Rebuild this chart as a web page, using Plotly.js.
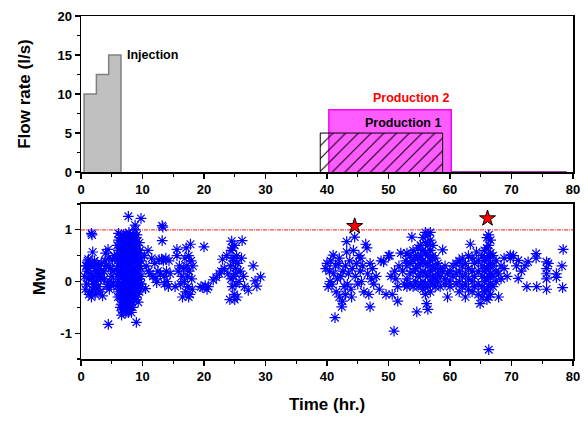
<!DOCTYPE html>
<html>
<head>
<meta charset="utf-8">
<script src="https://cdn.plot.ly/plotly-3.0.1.min.js"></script>
<style>html,body{margin:0;padding:0;background:#fff;}#chart{width:586px;height:423px;}</style>
</head>
<body>
<div id="chart"></div>
<script>
// ---- Flow rate data ----
const injTime = [0.5, 2.5, 4.5, 6.5];
const injRate = [10, 12.5, 15];
const prod1Time = [38.9, 58.8];
const prod1Rate = [5];
const prod2Time = [40.3, 60.2];
const prod2Rate = [8];
const flowEnd = 79;

// ---- Seismic events (time hr, Mw) ----
const eventTime = [
0.6,0.8,0.9,1.0,1.1,1.2,1.3,1.4,1.5,1.6,
1.7,1.8,1.9,1.7,1.9,2.0,2.1,2.2,2.3,2.4,
2.5,2.6,2.7,2.8,2.9,3.0,3.1,3.2,3.3,3.5,
3.7,3.8,4.0,4.1,4.2,4.3,4.4,4.5,4.6,4.7,
4.8,4.9,5.0,5.1,5.3,5.4,4.44,1.2,2.0,0.7,
0.9,1.3,1.8,2.2,2.6,3.0,3.4,3.9,4.5,5.2,
5.9,5.9,5.9,5.9,6.1,6.1,6.1,6.1,6.1,6.1,
6.3,6.3,6.3,6.3,6.3,6.3,6.5,6.5,6.5,6.5,
6.5,6.5,6.5,6.5,6.7,6.7,6.7,6.7,6.7,6.7,
6.7,6.7,6.9,6.9,6.9,6.9,6.9,6.9,6.9,6.9,
7.1,7.1,7.1,7.1,7.1,7.1,7.1,7.1,7.3,7.3,
7.3,7.3,7.3,7.3,7.3,7.3,7.5,7.5,7.5,7.5,
7.5,7.5,7.5,7.5,7.7,7.7,7.7,7.7,7.7,7.7,
7.7,7.7,7.7,7.9,7.9,7.9,7.9,7.9,7.9,7.9,
7.9,8.1,8.1,8.1,8.1,8.1,8.1,8.1,8.3,8.3,
8.3,8.3,8.3,8.3,8.3,8.5,8.5,8.5,8.5,8.5,
8.5,8.8,8.8,8.8,8.8,8.8,8.8,8.8,9.0,9.0,
9.0,9.0,9.0,9.0,9.0,9.2,9.2,9.2,9.2,9.2,
9.5,9.5,9.5,9.5,9.5,9.75,9.75,9.75,9.75,7.8,
6.4,6.6,6.8,7.0,7.2,7.4,7.6,7.8,8.0,8.2,
8.4,8.6,8.9,7.0,7.4,6.8,7.6,8.0,6.2,9.4,
8.6,8.7,9.1,9.3,9.4,9.6,9.7,9.8,5.8,6.0,
6.0,6.2,6.4,8.7,9.1,9.3,9.6,8.4,8.2,6.6,
10.3,10.5,10.6,10.9,11.2,11.5,11.7,12.0,12.2,12.5,
12.7,12.9,13.2,13.2,13.3,13.1,13.4,13.5,13.6,13.8,
13.9,14.0,14.2,14.3,14.5,12.3,11.0,
15.3,15.6,15.6,15.8,16.0,16.2,16.4,16.5,16.7,16.9,
17.0,17.1,17.2,17.3,17.4,17.5,17.6,17.7,17.8,17.9,
18.0,18.1,18.2,17.5,16.8,
19.5,19.8,20.0,20.2,20.5,20.7,21.5,22.0,22.5,22.8,
23.0,23.3,23.7,23.9,24.2,24.3,24.4,24.5,24.6,24.7,
24.8,24.9,25.0,25.1,25.2,25.3,25.4,25.5,25.7,25.9,
26.1,26.2,26.4,26.6,27.2,28.0,28.3,28.6,29.2,24.6,
25.0,24.4,24.8,25.2,
39.8,40.0,40.2,40.4,40.6,40.8,41.0,41.1,41.3,41.4,
41.5,41.7,41.9,42.0,42.2,42.4,42.5,42.6,42.8,43.0,
43.2,43.2,43.3,43.5,43.7,43.9,44.1,44.3,44.5,44.6,
44.8,45.0,45.2,45.4,45.6,45.8,46.0,46.3,46.5,46.6,
46.8,47.0,47.0,47.2,47.4,47.6,48.0,48.5,48.8,49.2,
49.6,50.0,50.2,50.4,50.6,50.9,51.0,51.2,51.5,51.7,
51.5,52.0,52.3,52.6,52.8,40.5,42.0,43.0,44.0,45.5,
53.0,53.0,53.0,53.0,53.5,53.5,53.5,53.5,53.8,54.0,
54.0,54.0,54.0,54.4,54.4,54.4,54.6,54.8,54.8,54.8,
54.8,54.8,55.2,55.2,55.2,55.2,55.2,55.6,55.6,55.6,
55.6,55.6,55.6,56.0,56.0,56.0,56.0,56.0,56.0,56.0,
56.2,56.4,56.4,56.4,56.4,56.4,56.4,56.4,56.8,56.8,
56.8,56.8,56.8,56.8,56.8,57.2,57.2,57.2,57.2,57.2,
57.6,57.6,57.6,57.6,58.0,58.0,58.0,58.4,58.4,58.4,
58.8,58.8,59.2,59.2,59.2,59.6,59.6,60.0,60.0,60.0,
60.5,60.5,61.0,61.0,61.0,61.5,61.5,61.5,61.5,62.0,
62.0,62.0,62.0,62.5,62.5,62.5,62.5,63.0,63.0,63.0,
63.0,63.3,63.6,63.6,63.6,63.6,64.0,64.0,64.0,64.3,
64.6,64.6,64.6,64.6,64.9,65.2,65.2,65.2,65.2,65.2,
65.6,65.6,65.6,65.6,65.6,66.0,66.0,66.0,66.0,66.0,
66.0,66.0,66.3,66.3,66.3,66.3,66.3,66.3,66.3,66.3,
66.6,66.6,66.6,66.6,66.6,66.6,67.0,67.0,67.0,67.0,
67.5,67.5,67.5,67.9,67.9,68.3,68.3,68.8,68.8,69.3,
69.8,69.8,70.3,70.8,71.1,71.1,71.6,72.2,72.5,72.7,
74.0,74.0,74.1,75.7,75.7,75.7,75.7,75.7,76.0,77.3,
77.3,78.2,78.4,78.3
];
const eventMw = [
0.1,0.3,-0.05,0.2,0.4,0.05,0.25,-0.2,0.35,0.15,
0.93,0.9,0.57,-0.3,-0.15,0.3,0.1,0.4,-0.25,0.2,
0.0,0.35,0.15,-0.1,0.3,0.25,-0.2,0.05,0.35,-0.28,
0.2,0.05,0.55,0.3,-0.1,-0.05,0.62,0.45,-0.15,0.0,
0.25,-0.08,0.1,0.42,-0.02,0.5,-0.83,0.43,-0.05,-0.15,
0.3,-0.25,0.05,-0.05,-0.15,0.1,0.15,0.4,0.3,0.2,
0.1,0.4,0.7,-0.1,0.93,0.6,0.3,0.0,-0.2,0.8,
0.85,0.5,0.2,-0.1,-0.3,0.65,0.9,0.7,0.45,0.15,
-0.05,-0.25,-0.45,0.3,0.8,0.55,0.35,0.1,-0.15,-0.35,
-0.55,0.65,0.9,0.75,0.5,0.25,0.0,-0.2,-0.4,-0.6,
0.85,0.6,0.4,0.15,-0.1,-0.3,-0.5,0.7,0.9,0.7,
0.45,0.2,-0.05,-0.25,-0.45,-0.6,0.88,0.65,0.35,0.1,
-0.15,-0.35,-0.55,0.5,1.26,0.85,0.6,0.4,0.2,0.0,
-0.2,-0.4,-0.6,0.9,0.7,0.5,0.25,0.05,-0.15,-0.35,
-0.55,0.85,0.6,0.35,0.15,-0.1,-0.3,-0.5,0.8,0.55,
0.3,0.05,-0.2,-0.4,0.7,0.9,0.65,0.4,0.2,-0.05,
-0.25,1.09,1.0,0.75,0.5,0.25,0.0,-0.2,0.85,0.6,
0.35,0.1,-0.15,-0.3,-0.79,0.7,0.45,0.2,-0.05,-0.25,
0.55,0.3,0.05,-0.2,0.75,1.22,0.4,0.1,-0.1,0.95,
0.6,0.2,0.4,0.55,0.3,0.05,0.75,0.35,-0.25,0.45,
0.15,0.55,0.4,-0.45,0.8,-0.05,-0.3,0.65,0.45,0.1,
0.8,0.05,0.55,0.3,-0.1,0.6,0.25,-0.05,0.25,0.5,
-0.3,0.15,-0.5,-0.35,0.9,-0.4,0.45,-0.5,-0.6,-0.65,
0.5,-0.14,0.3,0.6,0.15,0.45,0.1,0.35,0.05,0.2,
0.42,0.15,1.08,0.79,1.05,0.43,0.4,0.1,-0.05,0.45,
0.2,0.0,-0.1,0.4,0.15,-0.02,0.2,
-0.1,0.62,0.5,0.2,0.3,-0.05,0.1,-0.3,0.25,0.45,
-0.2,0.65,0.3,0.1,-0.1,0.5,0.2,-0.25,0.72,0.4,
0.05,-0.15,0.3,-0.3,0.0,
-0.1,-0.12,0.67,-0.08,-0.15,-0.1,0.03,0.08,0.15,0.2,
0.43,0.25,0.5,0.15,-0.35,0.3,0.6,0.78,-0.1,0.45,
0.1,-0.25,0.7,0.25,-0.05,0.5,-0.3,0.35,0.0,0.2,
0.45,0.79,0.1,-0.1,-0.17,0.3,0.01,-0.09,0.09,0.65,
-0.35,0.05,0.4,0.15,
0.25,0.35,-0.1,0.2,0.4,-0.05,0.51,0.15,-0.7,0.3,
-0.2,0.05,0.35,-0.3,0.1,-0.49,-0.38,0.2,-0.1,0.3,
0.77,0.57,-0.05,0.15,0.4,-0.15,0.25,0.6,0.86,0.1,
0.35,-0.05,0.5,0.2,0.0,0.3,-0.2,0.72,0.65,0.15,
-0.25,-0.49,0.35,0.05,0.25,-0.05,0.1,-0.15,0.4,0.38,
-0.25,0.5,0.5,0.1,-0.25,-0.96,0.2,0.05,-0.1,0.3,
-0.38,0.55,0.2,-0.05,0.4,0.0,0.45,-0.25,-0.3,0.45,
0.55,0.3,0.05,-0.1,0.5,0.35,0.15,-0.05,0.86,0.6,
0.4,0.2,-0.1,0.5,0.25,0.0,-0.59,0.65,0.45,0.3,
0.1,-0.1,0.7,0.5,0.35,0.15,-0.05,0.85,0.6,0.4,
0.2,0.0,-0.15,0.95,0.75,0.55,0.35,0.15,-0.05,-0.25,
-0.43,0.9,0.7,0.5,0.3,0.1,-0.1,-0.54,0.95,0.8,
0.6,0.4,0.2,0.0,-0.2,0.7,0.5,0.3,0.1,-0.05,
0.45,0.25,0.05,-0.1,0.35,0.15,0.0,0.25,0.1,-0.1,
0.61,0.2,0.05,0.3,-0.05,0.15,-0.3,0.2,0.0,-0.1,
0.3,0.1,0.15,-0.05,0.35,0.4,0.2,0.0,-0.2,0.3,
0.1,-0.1,0.45,0.35,0.15,-0.05,-0.3,0.5,0.25,0.05,
-0.15,0.72,0.45,0.2,0.0,-0.2,0.35,0.1,-0.1,0.57,
0.4,0.2,-0.05,-0.25,-0.43,0.5,0.3,0.1,-0.1,-0.3,
0.6,0.4,0.2,0.0,-0.2,0.85,0.65,0.45,0.25,0.05,
-0.15,-0.35,0.9,0.7,0.5,0.3,0.1,-0.1,-0.3,-1.32,
0.8,0.55,0.35,0.15,-0.05,-0.25,0.5,0.3,0.1,-0.1,
0.4,0.2,0.0,-0.3,0.15,0.3,0.05,0.45,0.25,0.1,
0.51,0.45,0.5,0.3,0.41,0.06,0.2,0.3,-0.1,0.38,
0.54,0.45,-0.1,0.38,0.15,-0.15,0.25,0.05,0.35,0.08,
0.15,0.3,0.62,-0.12
];
const bigTime = [44.5, 66.1];
const bigMw = [1.07, 1.22];
const thresholdMw = 1;
const xRange = [0, 80];

// ---- build step outlines from data ----
const injX = [injTime[0]].concat(injTime).concat([injTime[injTime.length-1]]);
const injY = [0].concat(injRate).concat([injRate[injRate.length-1], 0]);
function box(t, r){ return {x:[t[0],t[0],t[1],t[1]], y:[0,r[0],r[0],0]}; }
const p1 = box(prod1Time, prod1Rate);
const p2 = box(prod2Time, prod2Rate);

const F = 'Arial, "Liberation Sans", sans-serif';
const traces = [
  {x: injX, y: injY, type:'scatter', mode:'lines', line:{shape:'hv', color:'#808080', width:1.5},
   fill:'toself', fillcolor:'#c0c0c0', xaxis:'x', yaxis:'y', hoverinfo:'skip'},
  {x: p2.x, y: p2.y, type:'scatter', mode:'lines', line:{color:'#ff00ff', width:1.5},
   fill:'toself', fillcolor:'#ff5cff', xaxis:'x', yaxis:'y'},
  {x: [prod2Time[1], flowEnd], y:[0,0], type:'scatter', mode:'lines', line:{color:'#800080', width:1.5}, xaxis:'x', yaxis:'y'},
  {x: p1.x, y: p1.y, type:'scatter', mode:'lines', line:{color:'#000000', width:1},
   fill:'toself', fillcolor:'rgba(0,0,0,0)',
   fillpattern:{shape:'/', fgcolor:'#000000', bgcolor:'rgba(0,0,0,0)', size:9, solidity:0.12},
   xaxis:'x', yaxis:'y'},
  {x: xRange, y:[thresholdMw, thresholdMw], type:'scatter', mode:'lines',
   line:{color:'#ff4040', width:1.2, dash:'4px,1px,1px,1px'}, xaxis:'x2', yaxis:'y2'},
  {x: eventTime, y: eventMw, type:'scatter', mode:'markers',
   marker:{symbol:'asterisk-open', size:9, line:{color:'#0000ff', width:1.2}, color:'#0000ff'},
   xaxis:'x2', yaxis:'y2'},
  {x: bigTime, y: bigMw, type:'scatter', mode:'markers',
   marker:{symbol:'star', size:12, color:'#ff0000', line:{color:'#000000', width:1}},
   xaxis:'x2', yaxis:'y2'}
];

const tickFont = {family:F, size:13, color:'#000', weight:'bold'};
const titleFont = {family:F, size:17, color:'#000', weight:'bold'};
const baseAx = {showline:true, linecolor:'#000', linewidth:1.5, mirror:true, ticks:'outside',
  ticklen:5, tickwidth:1.3, tickcolor:'#000', showgrid:false, zeroline:false, tickfont:tickFont, fixedrange:true};
const inAx = {showline:false, ticks:'inside', ticklen:5, tickwidth:1.3, tickcolor:'#000',
  showticklabels:false, showgrid:false, zeroline:false};

const layout = {
  width:586, height:423, showlegend:false,
  paper_bgcolor:'#fff', plot_bgcolor:'#fff',
  margin:{l:81, r:13, t:16, b:64},
  font:{family:F, color:'#000'},
  xaxis: Object.assign({}, baseAx, {domain:[0,1], anchor:'y', range:xRange, dtick:10, tick0:0,
    minor:{dtick:5, tick0:0, ticks:'outside', ticklen:3, tickwidth:1.3, tickcolor:'#000'}}),
  yaxis: Object.assign({}, baseAx, {domain:[0.545,1], anchor:'x', range:[0,20], dtick:5, tick0:0,
    minor:{dtick:2.5, tick0:0, ticks:'outside', ticklen:3, tickwidth:1.3, tickcolor:'#000'},
    title:{text:'Flow rate (l/s)', font:titleFont, standoff:22}}),
  xaxis2: Object.assign({}, baseAx, {domain:[0,1], anchor:'y2', range:xRange, dtick:10, tick0:0,
    minor:{dtick:5, tick0:0, ticks:'outside', ticklen:3, tickwidth:1.3, tickcolor:'#000'},
    title:{text:'Time (hr.)', font:titleFont, standoff:15}}),
  yaxis2: Object.assign({}, baseAx, {domain:[0,0.452], anchor:'x2', range:[-1.5,1.5],
    tickmode:'array', tickvals:[-1,0,1], ticktext:['-1','0','1'],
    minor:{tickmode:'linear', dtick:0.5, tick0:0, ticks:'outside', ticklen:3, tickwidth:1.3, tickcolor:'#000'},
    title:{text:'Mw', font:titleFont, standoff:10}}),
  xaxis3: Object.assign({}, inAx, {overlaying:'x', anchor:'y', side:'top', range:xRange, dtick:10, tick0:0,
    minor:{dtick:5, tick0:0, ticks:'inside', ticklen:3, tickwidth:1.3, tickcolor:'#000'}}),
  yaxis3: Object.assign({}, inAx, {overlaying:'y', anchor:'x', side:'right', range:[0,20], dtick:5, tick0:0,
    minor:{dtick:2.5, tick0:0, ticks:'inside', ticklen:3, tickwidth:1.3, tickcolor:'#000'}}),
  xaxis4: Object.assign({}, inAx, {overlaying:'x2', anchor:'y2', side:'top', range:xRange, dtick:10, tick0:0,
    minor:{dtick:5, tick0:0, ticks:'inside', ticklen:3, tickwidth:1.3, tickcolor:'#000'}}),
  yaxis4: Object.assign({}, inAx, {overlaying:'y2', anchor:'x2', side:'right', range:[-1.5,1.5],
    tickmode:'array', tickvals:[-1,0,1],
    minor:{tickmode:'linear', dtick:0.5, tick0:0, ticks:'inside', ticklen:3, tickwidth:1.3, tickcolor:'#000'}}),
  annotations:[
    {text:'Injection', x:injTime[injTime.length-1]+0.6, y:injRate[injRate.length-1], xref:'x', yref:'y',
     xanchor:'left', yanchor:'middle', showarrow:false, font:{family:F, size:12.5, color:'#000', weight:'bold'}},
    {text:'Production 2', x:prod2Time[1], y:prod2Rate[0]+0.3, xref:'x', yref:'y',
     xanchor:'right', yanchor:'bottom', showarrow:false, font:{family:F, size:12.5, color:'#ff0000', weight:'bold'}},
    {text:'Production 1', x:prod1Time[1], y:prod1Rate[0]+0.1, xref:'x', yref:'y',
     xanchor:'right', yanchor:'bottom', showarrow:false, font:{family:F, size:12.5, color:'#000', weight:'bold'}}
  ]
};

Plotly.newPlot('chart', traces, layout, {staticPlot:true, displayModeBar:false});
</script>
</body>
</html>
